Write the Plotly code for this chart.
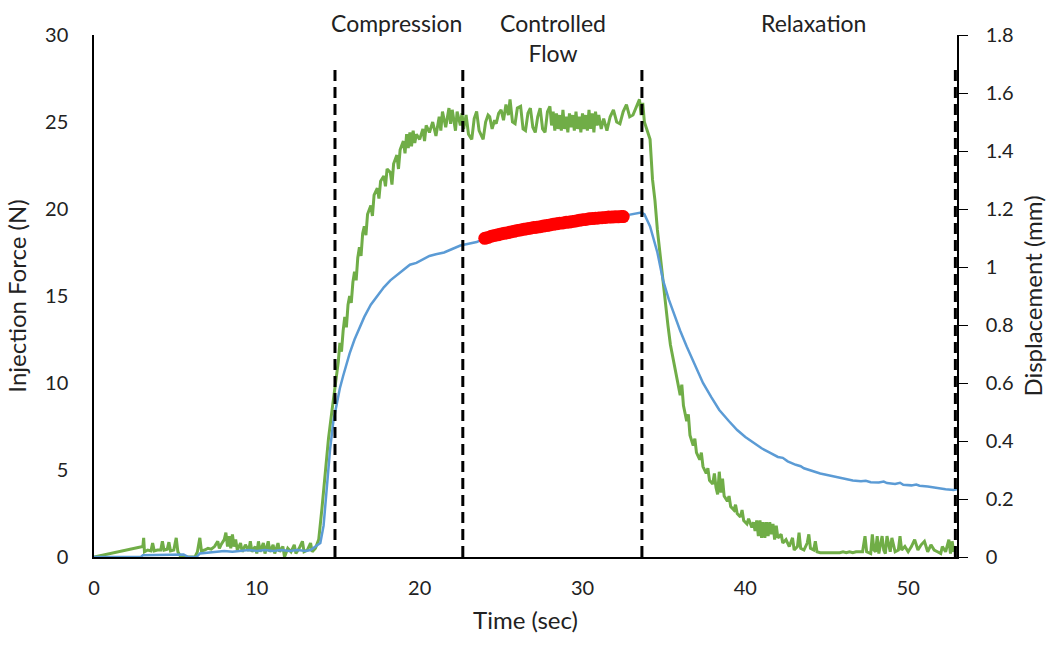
import plotly.graph_objects as go

# ---------------- data ----------------
# Injection force (green), time in s, force in N
force_t = [0, 3.0, 3.05, 3.1, 3.3, 3.5, 3.6, 3.7, 3.9, 4.1, 4.2, 4.3, 4.5, 4.6, 4.7, 4.9, 5.05, 5.15, 5.3, 5.6, 6.2,
           6.35, 6.5, 6.6, 6.8, 7.0, 7.2, 7.4, 7.6, 7.7, 7.8, 8.0, 8.1, 8.2, 8.3, 8.4, 8.5, 8.6, 8.7, 8.8, 9.0, 9.1,
           9.3, 9.5, 9.6, 9.7, 9.9, 10.0, 10.1, 10.2, 10.4, 10.5, 10.7, 10.8, 11.0, 11.1, 11.3, 11.4, 11.6, 11.7,
           11.9, 12.1, 12.3, 12.4, 12.6, 12.8, 12.9, 13.1, 13.3, 13.4, 13.6, 13.8,
           14.0, 14.2, 14.4, 14.6, 14.8, 15.0, 15.1, 15.2, 15.3, 15.4, 15.5, 15.6, 15.7, 15.8, 15.9, 16.0, 16.1,
           16.2, 16.3, 16.4, 16.5, 16.6, 16.7, 16.8, 17.0, 17.1, 17.2, 17.4, 17.5, 17.6, 17.8, 17.9, 18.0, 18.2,
           18.3, 18.4, 18.6, 18.7, 18.8, 19.0, 19.1, 19.2, 19.3, 19.4, 19.5, 19.6, 19.7, 19.8, 20.0, 20.2, 20.3,
           20.4, 20.6, 20.8, 21.0, 21.2, 21.3, 21.4, 21.6, 21.8, 21.9, 22.0, 22.2, 22.3, 22.5, 22.6,
           22.7, 22.85, 23.0, 23.2, 23.35, 23.5, 23.65, 23.8, 23.9, 24.05, 24.2, 24.3, 24.45, 24.6, 24.7, 24.85,
           25.0, 25.15, 25.3, 25.45, 25.55, 25.7, 25.86, 26.0, 26.2, 26.35, 26.5, 26.65, 26.8, 26.95, 27.1, 27.25,
           27.4, 27.55, 27.7, 27.85, 28.0, 28.1, 28.2, 28.3, 28.4, 28.5, 28.6, 28.7, 28.8, 28.9, 29.0, 29.1, 29.2,
           29.3, 29.4, 29.5, 29.6, 29.7, 29.8, 29.9, 30.0, 30.1, 30.2, 30.3, 30.4, 30.5, 30.6, 30.7, 30.8, 30.9,
           31.0, 31.15, 31.3, 31.5, 31.7, 31.9, 32.1, 32.3, 32.5, 32.7, 32.9, 33.1, 33.3, 33.5, 33.6, 33.7,
           33.8, 34.0, 34.15, 34.3, 34.45, 34.6, 34.75, 34.9, 35.1, 35.25, 35.4, 35.6, 35.8, 36.0, 36.1, 36.2,
           36.4, 36.5, 36.6, 36.8, 36.9, 37.0, 37.2, 37.3, 37.4, 37.6, 37.7, 37.8, 38.0, 38.1, 38.2, 38.3, 38.4,
           38.5, 38.6, 38.7, 38.9, 39.0, 39.1, 39.3, 39.4, 39.5, 39.7, 39.8, 39.9, 40.1, 40.2, 40.4, 40.5, 40.6,
           40.7, 40.8, 40.9, 41.0, 41.1, 41.2, 41.3, 41.4, 41.5, 41.6, 41.7, 41.8, 41.9, 42.0, 42.2, 42.3, 42.5,
           42.7, 42.9, 43.0, 43.2, 43.3, 43.4, 43.6, 43.8, 43.9, 44.0, 44.2, 44.3, 44.4, 44.6, 45.0, 45.4, 45.6,
           45.8, 46.0, 46.2, 46.4, 46.6, 46.8, 47.0, 47.2, 47.35, 47.45, 47.7, 47.8, 47.9, 48.0, 48.1, 48.2, 48.4,
           48.5, 48.6, 48.7, 48.9, 49.0, 49.2, 49.4, 49.5, 49.6, 49.8, 50.0, 50.2, 50.4, 50.6, 50.8, 51.0, 51.2,
           51.4, 51.6, 51.8, 52.0, 52.1, 52.3, 52.5, 52.6, 52.7, 52.8, 52.9]
force_n = [0, 0.6, 1.1, 0.3, 0.4, 0.35, 0.8, 0.35, 0.4, 0.4, 0.9, 0.4, 0.45, 0.85, 0.35, 0.4, 1.1, 0.3, 0.05, 0, 0,
           0.3, 1.1, 0.35, 0.4, 0.5, 0.45, 0.6, 0.9, 0.5, 0.7, 1.0, 1.4, 0.6, 1.2, 0.5, 1.3, 0.6, 1.0, 0.4, 0.8, 0.3,
           0.7, 0.35, 0.9, 0.3, 0.6, 0.2, 0.9, 0.3, 0.8, 0.2, 0.9, 0.3, 0.7, 0.2, 0.8, 0.3, 0.6, 0.0,
           0.5, 0.3, 0.7, 0.2, 0.5, 0.9, 0.3, 0.4, 0.8, 0.3, 0.5, 1.0,
           2.8, 5.0, 6.8, 8.3, 9.8, 11.2, 12.3, 11.8, 13.0, 13.8, 13.2, 14.5, 15.0, 14.6, 15.8, 16.4, 15.9,
           17.2, 17.8, 17.3, 18.6, 19.0, 18.5, 19.7, 20.2, 19.6, 20.8, 21.2, 20.6, 21.6, 21.9, 21.3, 22.3, 22.1,
           21.4, 22.6, 23.1, 22.3, 23.4, 23.9, 23.2, 24.3, 23.5, 24.4, 23.6, 24.5, 23.8, 24.3, 24.0, 24.6, 23.9,
           24.8, 24.4, 25.0, 24.2, 25.3, 24.5, 25.6, 24.7, 25.8, 24.9, 25.7, 24.5, 25.6, 24.8, 25.5,
           24.6, 25.4, 24.3, 24.0, 25.2, 25.6, 24.5, 24.2, 24.0, 25.0, 25.4, 25.3, 24.6, 25.1, 24.9, 25.5,
           25.7, 25.1, 26.0, 25.4, 26.3, 25.0, 24.9, 25.8, 25.9, 24.6, 24.5, 25.5, 25.8, 24.7, 24.4, 25.3,
           25.8, 24.6, 24.4, 25.6, 25.9, 24.8, 25.6, 24.5, 25.5, 24.6, 25.4, 24.5, 25.7, 24.6, 25.3, 24.4, 25.5,
           24.7, 25.4, 24.5, 25.6, 24.6, 25.3, 24.4, 25.5, 24.6, 25.4, 24.5, 25.7, 24.6, 25.5, 24.4, 25.6, 24.8,
           25.4, 24.6, 25.2, 24.5, 25.3, 25.7, 25.0, 24.9, 25.6, 26.0, 25.3, 25.4, 25.9, 26.3, 25.4, 26.1,
           25.0, 24.5, 24.0, 21.7, 20.5, 18.8, 17.5, 16.0, 14.5, 13.3, 12.2, 11.2, 10.1, 9.3, 9.9, 8.7,
           7.8, 8.2, 7.0, 6.4, 6.8, 6.0, 5.6, 6.0, 5.2, 4.8, 5.1, 4.4, 4.2, 4.8, 4.0, 3.6, 4.9,
           3.7, 4.5, 3.5, 3.2, 3.5, 2.9, 2.7, 3.0, 2.5, 2.3, 2.7, 2.1, 1.9, 2.2, 1.7, 2.0, 1.5,
           2.1, 1.2, 2.1, 1.1, 2.0, 1.1, 2.0, 1.2, 2.0, 1.3, 1.9, 1.0, 1.8, 1.1, 1.3, 0.8, 1.0,
           0.6, 1.1, 0.4, 0.6, 1.4, 0.5, 0.4, 0.8, 1.3, 0.5, 0.4, 0.9, 0.3, 0.25, 0.25, 0.25, 0.25,
           0.25, 0.3, 0.25, 0.3, 0.25, 0.3, 0.3, 0.3, 1.2, 0.3, 0.2, 1.3, 0.4, 0.3, 1.2, 0.2, 1.2,
           0.4, 0.2, 1.2, 0.3, 1.1, 0.3, 0.4, 1.2, 0.4, 0.6, 0.3, 0.6, 1.0, 0.4, 0.7, 0.9, 0.3,
           0.7, 0.4, 0.3, 0.2, 0.6, 0.3, 1.0, 0.2, 0.9, 0.3, 0.6]

# Displacement (blue), time in s, displacement in mm
disp_t = [0, 2.9, 3.0, 4.0, 5.0, 5.5, 5.8, 6.3, 6.5, 7.0, 7.5, 8.0, 8.5, 9.0, 9.5, 10.0, 10.5, 11.0, 11.5, 12.0,
          12.5, 13.0, 13.3, 13.6, 13.9, 14.1, 14.3, 14.5, 14.7, 14.9, 15.1, 15.3, 15.5, 15.7, 16.0, 16.3, 16.6,
          17.0, 17.4, 17.8, 18.2, 18.6, 19.0, 19.4, 19.8, 20.2, 20.6, 21.0, 21.5, 22.0, 22.5, 23.0, 23.5, 24.0,
          26.0, 28.0, 30.0, 32.1, 32.5, 33.0, 33.6, 33.8, 34.15, 34.6, 34.95, 35.3, 35.6, 36.0, 36.4, 36.9,
          37.4, 37.9, 38.4, 39.0, 39.5, 40.0, 40.5, 41.0, 41.5, 42.0, 42.3, 42.6, 43.1, 43.4, 43.6, 44.1, 44.6,
          45.1, 45.6, 46.1, 46.6, 47.1, 47.4, 47.7, 48.2, 48.5, 48.7, 49.2, 49.5, 49.7, 50.2, 50.5, 50.7,
          51.2, 51.5, 51.8, 52.3, 52.8, 53.0]
disp_mm = [0, 0.001, 0.006, 0.007, 0.007, 0.009, 0.0, 0.0, 0.012, 0.015, 0.018, 0.021, 0.018, 0.021, 0.024,
           0.021, 0.024, 0.021, 0.024, 0.021, 0.024, 0.021, 0.024, 0.036, 0.048, 0.108, 0.240, 0.372, 0.468,
           0.528, 0.582, 0.624, 0.666, 0.702, 0.750, 0.792, 0.828, 0.870, 0.900, 0.930, 0.954, 0.972, 0.990,
           1.008, 1.014, 1.026, 1.038, 1.044, 1.050, 1.062, 1.074, 1.080, 1.086, 1.099, 1.126, 1.145, 1.163,
           1.172, 1.176, 1.182, 1.188, 1.182, 1.140, 1.050, 0.954, 0.888, 0.840, 0.780, 0.726, 0.660, 0.600,
           0.552, 0.507, 0.468, 0.438, 0.414, 0.393, 0.375, 0.360, 0.345, 0.342, 0.330, 0.318, 0.313, 0.306,
           0.297, 0.288, 0.282, 0.276, 0.270, 0.264, 0.261, 0.263, 0.258, 0.257, 0.260, 0.255, 0.252, 0.256,
           0.249, 0.247, 0.250, 0.246, 0.243, 0.240, 0.237, 0.234, 0.231, 0.234]

# Controlled-flow region (red markers), displacement in mm
fit_t = [24.0, 24.2, 24.4, 24.6, 24.8, 25.0, 25.2, 25.4, 25.6, 25.8, 26.0, 26.2, 26.4, 26.6, 26.8, 27.0, 27.2,
         27.4, 27.6, 27.8, 28.0, 28.2, 28.4, 28.6, 28.8, 29.0, 29.2, 29.4, 29.6, 29.8, 30.0, 30.2, 30.4, 30.6,
         30.8, 31.0, 31.2, 31.4, 31.6, 31.8, 32.0, 32.2, 32.4, 32.5]
fit_mm = [1.099, 1.102, 1.106, 1.109, 1.111, 1.114, 1.116, 1.118, 1.121, 1.123, 1.126, 1.128, 1.130, 1.132,
          1.134, 1.136, 1.137, 1.139, 1.141, 1.143, 1.145, 1.147, 1.149, 1.151, 1.152, 1.154, 1.155, 1.157,
          1.159, 1.161, 1.163, 1.164, 1.166, 1.167, 1.168, 1.169, 1.170, 1.171, 1.172, 1.172, 1.173, 1.173,
          1.174, 1.174]

phase_bounds = [14.8, 22.65, 33.65, 52.9]
phase_labels = ["Compression", "Controlled<br>Flow", "Relaxation"]
phase_label_x = [18.6, 28.2, 44.2]

FONT = "Lato, Calibri, Carlito, sans-serif"

fig = go.Figure()
fig.add_trace(go.Scatter(x=force_t, y=force_n, mode="lines", line=dict(color="#70AD47", width=3),
                         name="Injection Force", yaxis="y"))
fig.add_trace(go.Scatter(x=disp_t, y=disp_mm, mode="lines", line=dict(color="#5B9BD5", width=2.5),
                         name="Displacement", yaxis="y2"))
fig.add_trace(go.Scatter(x=fit_t, y=fit_mm, mode="markers",
                         marker=dict(color="#FF0000", size=13, line=dict(width=0)),
                         name="Controlled flow", yaxis="y2"))

for xb in phase_bounds:
    fig.add_shape(type="line", x0=xb, x1=xb, xref="x", y0=0, y1=28.3, yref="y",
                  line=dict(color="black", width=3, dash="11px,6px"))

for lab, lx in zip(phase_labels, phase_label_x):
    fig.add_annotation(x=lx, xref="x", y=1.0, yref="paper", yanchor="top", yshift=28,
                       text=lab, showarrow=False, align="center",
                       font=dict(family=FONT, size=23, color="#222"))

fig.update_layout(
    width=1058, height=647,
    margin=dict(l=94, r=101, t=35, b=90),
    paper_bgcolor="white", plot_bgcolor="white",
    showlegend=False,
    font=dict(family=FONT, size=20, color="#222"),
    xaxis=dict(range=[0, 53], tickvals=[0, 10, 20, 30, 40, 50], showgrid=False, zeroline=False,
               showline=True, linecolor="black", linewidth=1.5, ticks="", ticklabelstandoff=12,
               title=dict(text="Time (sec)", standoff=14)),
    yaxis=dict(range=[0, 30], tickvals=[0, 5, 10, 15, 20, 25, 30], showgrid=False, zeroline=False,
               showline=True, linecolor="black", linewidth=1.5, ticks="", ticklabelstandoff=20,
               title=dict(text="Injection Force (N)", standoff=12)),
    yaxis2=dict(range=[0, 1.8], tickvals=[0, 0.2, 0.4, 0.6, 0.8, 1.0, 1.2, 1.4, 1.6, 1.8],
                ticktext=["0", "0.2", "0.4", "0.6", "0.8", "1", "1.2", "1.4", "1.6", "1.8"],
                overlaying="y", side="right", showgrid=False, zeroline=False,
                showline=True, linecolor="black", linewidth=1.5, ticks="outside", ticklen=9,
                tickcolor="black", ticklabelstandoff=14,
                title=dict(text="Displacement (mm)", standoff=12)),
)

fig.write_html("out.html")
